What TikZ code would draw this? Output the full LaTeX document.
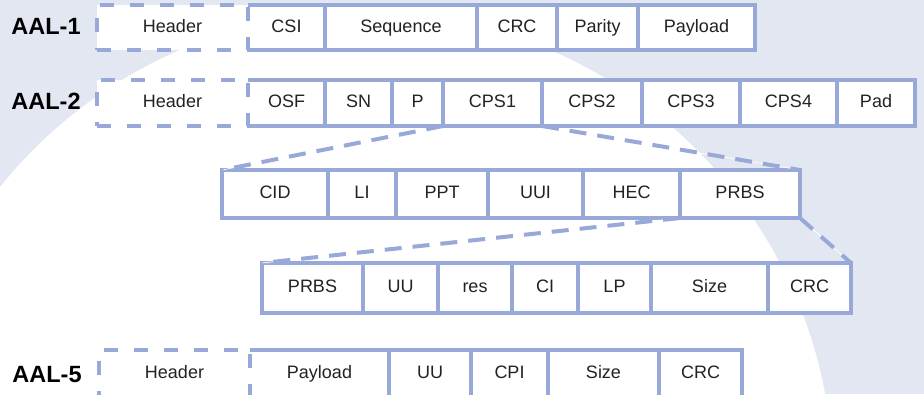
\documentclass[tikz,border=0pt]{standalone}
\usepackage{fontspec}
\setmainfont{Liberation Sans}
\usetikzlibrary{positioning}
\definecolor{cellline}{RGB}{152,169,217}
\definecolor{backdrop}{RGB}{227,231,241}
\definecolor{celltext}{RGB}{34,34,34}
\tikzset{
  field/.style = {fill=white, inner sep=0pt, outer sep=0pt,
    font=\fontsize{18}{20}\selectfont, text=celltext,
    text height=13pt, text depth=3.1pt},
  header/.style = {field, draw=cellline, line width=3.5pt,
    dash pattern=on 14pt off 16pt},
  frame/.style = {draw=cellline, line width=3.5pt},
  link/.style = {draw=cellline, line width=4pt, dash pattern=on 17pt off 11pt,
    preaction={draw=white, line width=0.7pt, solid}},
  aal/.style = {font=\fontsize{23.5}{26}\selectfont\bfseries, text=black}
}

\begin{document}
\begin{tikzpicture}[x=1pt,y=-1pt]
  \useasboundingbox (0,0) rectangle (924,394);
  \clip (0,0) rectangle (924,394);
  % backdrop
  \fill[backdrop] (0,0) rectangle (924,394);
  \fill[white] (365,480) circle (468pt);

  % AAL-1
  \pgfmathsetmacro{\rowh}{45}
  \node[field, anchor=north west, minimum width=77pt, minimum height=\rowh pt] (csi) at (248,5) {CSI};
  \node[field, right=0pt of csi, minimum width=152pt, minimum height=\rowh pt] (seq) {Sequence};
  \node[field, right=0pt of seq, minimum width=80pt, minimum height=\rowh pt] (crca) {CRC};
  \node[field, right=0pt of crca, minimum width=81pt, minimum height=\rowh pt] (par) {Parity};
  \node[field, right=0pt of par, minimum width=117pt, minimum height=\rowh pt] (paya) {Payload};
  \node[header, left=0pt of csi, minimum width=151pt, minimum height=\rowh pt] (hdra) {Header};
  \draw[frame] (csi.north west) -- (paya.north east) -- (paya.south east) -- (csi.south west);
  \foreach \f in {csi,seq,crca,par}
    \draw[frame] (\f.north east) -- (\f.south east);
  \node[aal] (aala) at (46,26) {AAL-1};

  % AAL-2
  \pgfmathsetmacro{\rowh}{46}
  \node[field, anchor=north west, minimum width=77pt, minimum height=\rowh pt] (osf) at (248,80) {OSF};
  \node[field, right=0pt of osf, minimum width=67pt, minimum height=\rowh pt] (sn) {SN};
  \node[field, right=0pt of sn, minimum width=51pt, minimum height=\rowh pt] (p) {P};
  \node[field, right=0pt of p, minimum width=99pt, minimum height=\rowh pt] (cpsa) {CPS1};
  \node[field, right=0pt of cpsa, minimum width=100pt, minimum height=\rowh pt] (cpsb) {CPS2};
  \node[field, right=0pt of cpsb, minimum width=98pt, minimum height=\rowh pt] (cpsc) {CPS3};
  \node[field, right=0pt of cpsc, minimum width=97pt, minimum height=\rowh pt] (cpsd) {CPS4};
  \node[field, right=0pt of cpsd, minimum width=78pt, minimum height=\rowh pt] (pad) {Pad};
  \node[header, left=0pt of osf, minimum width=151pt, minimum height=\rowh pt] (hdrb) {Header};
  \draw[frame] (osf.north west) -- (pad.north east) -- (pad.south east) -- (osf.south west);
  \foreach \f in {osf,sn,p,cpsa,cpsb,cpsc,cpsd}
    \draw[frame] (\f.north east) -- (\f.south east);
  \node[aal] (aalb) at (46,101) {AAL-2};

  % CPS packet
  \pgfmathsetmacro{\rowh}{48}
  \node[field, anchor=north west, minimum width=106pt, minimum height=\rowh pt] (cid) at (222,170) {CID};
  \node[field, right=0pt of cid, minimum width=68pt, minimum height=\rowh pt] (li) {LI};
  \node[field, right=0pt of li, minimum width=92pt, minimum height=\rowh pt] (ppt) {PPT};
  \node[field, right=0pt of ppt, minimum width=95pt, minimum height=\rowh pt] (uui) {UUI};
  \node[field, right=0pt of uui, minimum width=97pt, minimum height=\rowh pt] (hec) {HEC};
  \node[field, right=0pt of hec, minimum width=120pt, minimum height=\rowh pt] (prbs) {PRBS};
  \draw[frame] (cid.south west) rectangle (prbs.north east);
  \foreach \f in {cid,li,ppt,uui,hec}
    \draw[frame] (\f.north east) -- (\f.south east);

  % PRBS contents
  \pgfmathsetmacro{\rowh}{50}
  \node[field, anchor=north west, minimum width=101pt, minimum height=\rowh pt] (prbsb) at (262,263) {PRBS};
  \node[field, right=0pt of prbsb, minimum width=75pt, minimum height=\rowh pt] (uua) {UU};
  \node[field, right=0pt of uua, minimum width=74pt, minimum height=\rowh pt] (res) {res};
  \node[field, right=0pt of res, minimum width=66pt, minimum height=\rowh pt] (ci) {CI};
  \node[field, right=0pt of ci, minimum width=73pt, minimum height=\rowh pt] (lp) {LP};
  \node[field, right=0pt of lp, minimum width=117pt, minimum height=\rowh pt] (sizea) {Size};
  \node[field, right=0pt of sizea, minimum width=83pt, minimum height=\rowh pt] (crcb) {CRC};
  \draw[frame] (prbsb.south west) rectangle (crcb.north east);
  \foreach \f in {prbsb,uua,res,ci,lp,sizea}
    \draw[frame] (\f.north east) -- (\f.south east);

  % AAL-5
  \pgfmathsetmacro{\rowh}{47}
  \node[field, anchor=north west, minimum width=139pt, minimum height=\rowh pt] (payc) at (250,350) {Payload};
  \node[field, right=0pt of payc, minimum width=82pt, minimum height=\rowh pt] (uub) {UU};
  \node[field, right=0pt of uub, minimum width=77pt, minimum height=\rowh pt] (cpi) {CPI};
  \node[field, right=0pt of cpi, minimum width=111pt, minimum height=\rowh pt] (sizeb) {Size};
  \node[field, right=0pt of sizeb, minimum width=83pt, minimum height=\rowh pt] (crcc) {CRC};
  \node[header, left=0pt of payc, minimum width=151pt, minimum height=\rowh pt] (hdrc) {Header};
  \draw[frame] (payc.north west) -- (crcc.north east) -- (crcc.south east) -- (payc.south west);
  \foreach \f in {payc,uub,cpi,sizeb}
    \draw[frame] (\f.north east) -- (\f.south east);
  \node[aal] (aalc) at (47,375) {AAL-5};

  % expansion links
  \draw[link] (cpsa.south west) -- (cid.north west);
  \draw[link] (cpsa.south east) -- (prbs.north east);
  \draw[link] (prbs.south west) -- (prbsb.north west);
  \draw[link] (prbs.south east) -- (crcb.north east);
\end{tikzpicture}
\end{document}
